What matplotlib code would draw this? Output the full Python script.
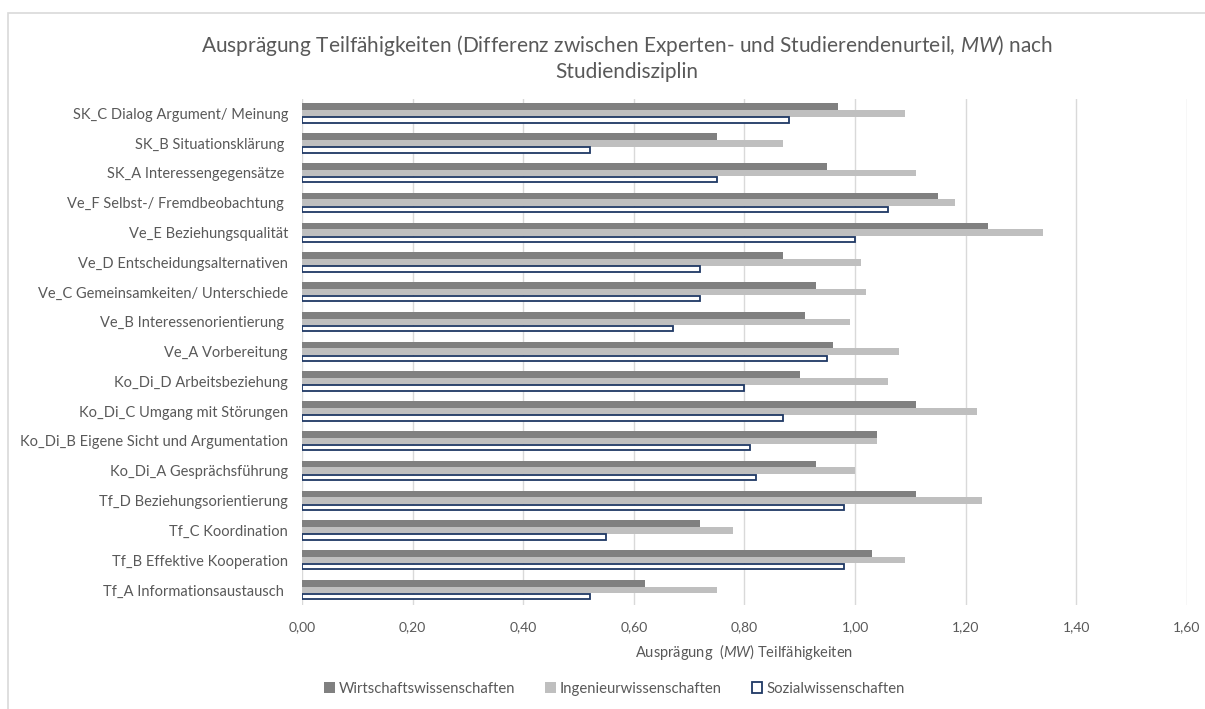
import numpy as np
import matplotlib
matplotlib.use("Agg")
import matplotlib.pyplot as plt
from matplotlib.patches import Rectangle

plt.rcParams['font.family'] = ['Lato', 'DejaVu Sans']
plt.rcParams['mathtext.fontset'] = 'custom'
plt.rcParams['mathtext.rm'] = 'Lato'
plt.rcParams['mathtext.it'] = 'Lato:italic'

# categories from bottom to top
categories = [
    "Tf_A Informationsaustausch ",
    "Tf_B Effektive Kooperation",
    "Tf_C Koordination",
    "Tf_D Beziehungsorientierung",
    "Ko_Di_A Gesprächsführung",
    "Ko_Di_B Eigene Sicht und Argumentation",
    "Ko_Di_C Umgang mit Störungen",
    "Ko_Di_D Arbeitsbeziehung",
    "Ve_A Vorbereitung",
    "Ve_B Interessenorientierung ",
    "Ve_C Gemeinsamkeiten/ Unterschiede",
    "Ve_D Entscheidungsalternativen",
    "Ve_E Beziehungsqualität",
    "Ve_F Selbst-/ Fremdbeobachtung ",
    "SK_A Interessengegensätze ",
    "SK_B Situationsklärung ",
    "SK_C Dialog Argument/ Meinung",
]
wirtschaft = [0.62, 1.03, 0.72, 1.11, 0.93, 1.04, 1.11, 0.90, 0.96, 0.91, 0.93, 0.87, 1.24, 1.15, 0.95, 0.75, 0.97]
ingenieur = [0.75, 1.09, 0.78, 1.23, 1.00, 1.04, 1.22, 1.06, 1.08, 0.99, 1.02, 1.01, 1.34, 1.18, 1.11, 0.87, 1.09]
sozial = [0.52, 0.98, 0.55, 0.98, 0.82, 0.81, 0.87, 0.80, 0.95, 0.67, 0.72, 0.72, 1.00, 1.06, 0.75, 0.52, 0.88]
series_names = ["Wirtschaftswissenschaften", "Ingenieurwissenschaften", "Sozialwissenschaften"]
xticks = [0.0, 0.2, 0.4, 0.6, 0.8, 1.0, 1.2, 1.4, 1.6]

txt = '#595959'
fig = plt.figure(figsize=(12.05, 7.09), dpi=100)
ax = fig.add_axes([0.2506, 0.147, 0.7344, 0.714])

y = np.arange(len(categories))
h = 0.225
ax.barh(y + h, wirtschaft, height=h, color='#808080', label=series_names[0], zorder=3)
ax.barh(y, ingenieur, height=h, color='#BFBFBF', label=series_names[1], zorder=3)
ax.barh(y - h, sozial, height=h * 0.8, color='white', edgecolor='#1F3864',
        linewidth=1.3, label=series_names[2], zorder=3)

ax.set_xlim(0, 1.6)
ax.set_ylim(-0.5, len(categories) - 0.5)
ax.set_xticks(xticks)
ax.set_xticklabels([f"{v:.2f}".replace('.', ',') for v in xticks], color=txt, fontsize=10)
ax.set_yticks(y)
ax.set_yticklabels(categories, color=txt, fontsize=10.5)
ax.tick_params(length=0, pad=10)
ax.tick_params(axis='x', pad=12)
ax.grid(axis='x', color='#D9D9D9', linewidth=1, zorder=0)
for s in ax.spines.values():
    s.set_visible(False)

ax.set_xlabel(r"Ausprägung  $\mathit{(MW)}$ Teilfähigkeiten", color=txt, fontsize=10.5, labelpad=6)
fig.text(0.52, 0.919,
         "Ausprägung Teilfähigkeiten (Differenz zwischen Experten- und Studierendenurteil, $\\mathit{MW)}$ nach\nStudiendisziplin",
         ha='center', va='center', color=txt, fontsize=15, linespacing=1.3)

leg = fig.legend(loc='lower center', bbox_to_anchor=(0.51, 0.0), ncol=3, frameon=False,
                 fontsize=10.7, handlelength=0.7, handleheight=0.7, handletextpad=0.3,
                 columnspacing=2.0, labelcolor=txt)

fig.patches.append(Rectangle((0.007, -0.1), 1.1, 1.0817, transform=fig.transFigure,
                             fill=False, edgecolor='#D9D9D9', linewidth=1.2))

fig.savefig('out.png', dpi=100)
